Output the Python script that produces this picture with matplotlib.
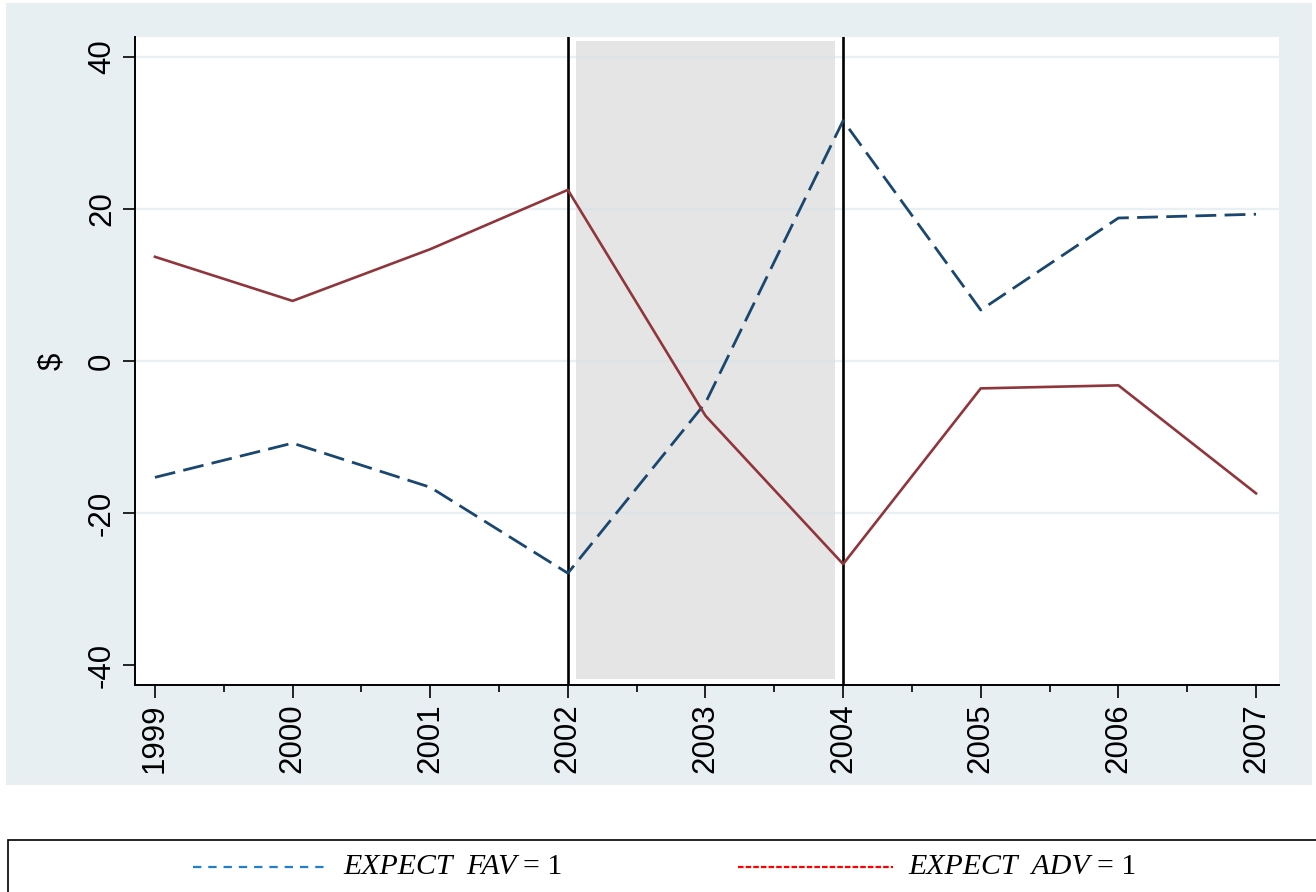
import matplotlib
matplotlib.use("Agg")
import matplotlib.pyplot as plt
from matplotlib.patches import Rectangle
from matplotlib.lines import Line2D

# values
years = [1999, 2000, 2001, 2002, 2003, 2004, 2005, 2006, 2007]
expect_fav = [-15.3, -10.8, -16.6, -27.9, -5.5, 31.6, 6.7, 18.8, 19.3]
expect_adv = [13.7, 7.9, 14.7, 22.5, -7.2, -26.7, -3.6, -3.2, -17.4]
yticks = [-40, -20, 0, 20, 40]
grid_levels = [-20, 0, 20, 40]
event_years = [2002, 2004]
shade_span = (2002.06, 2003.94)
shade_y = (-41.8, 42.1)

plt.rcParams['lines.scale_dashes'] = False
plt.rcParams['font.family'] = ['Liberation Sans', 'DejaVu Sans']

W, H = 1316, 892
fig = plt.figure(figsize=(W / 100, H / 100), dpi=100)
fig.patch.set_facecolor('white')

# outer light panel
fig.patches.append(Rectangle((6 / W, 1 - 785 / H), (1312 - 6) / W, (785 - 3) / H,
                             transform=fig.transFigure, facecolor='#e8eff2',
                             edgecolor='none', zorder=-5))

ax = fig.add_axes([135 / W, 1 - 685 / H, (1279 - 135) / W, (685 - 37) / H])
ax.set_zorder(1)
ax.set_facecolor('white')
ax.set_xlim(1998.855, 2007.167)
ax.set_ylim(-42.6, 42.6)

ax.add_patch(Rectangle((shade_span[0], shade_y[0]), shade_span[1] - shade_span[0],
                       shade_y[1] - shade_y[0], facecolor='#e5e5e5', edgecolor='none', zorder=1))
for y in grid_levels:
    ax.axhline(y, color='#d4e2e8', lw=1.7, alpha=0.5, zorder=2)

for x in event_years:
    ax.axvline(x, color='black', lw=1.9, zorder=4)

ax.plot(years, expect_fav, color='#1a476f', lw=2.0, dashes=(15, 6), zorder=5)
ax.plot(years, expect_adv, color='#90353b', lw=1.9, zorder=5)

ax.spines['top'].set_visible(False)
ax.spines['right'].set_visible(False)
ax.spines['left'].set_linewidth(1.4)
ax.spines['bottom'].set_linewidth(1.4)

ax.set_yticks(yticks)
ax.set_yticklabels([str(v) for v in yticks], rotation=90, va='center', fontsize=22.5)
ax.set_xticks(years)
ax.set_xticklabels([str(v) for v in years], rotation=90, fontsize=22.5)
ax.set_xticks([y + 0.5 for y in years[:-1]], minor=True)
ax.tick_params(axis='both', which='major', length=9, width=1.2, pad=4)
ax.tick_params(axis='x', which='minor', length=5, width=1.2)
ax.set_ylabel('$', fontsize=22.5, labelpad=14)

# legend box at the bottom
fig.patches.append(Rectangle((8 / W, -0.01), 1.0, (1 - 840 / H) + 0.01,
                             transform=fig.transFigure, facecolor='white',
                             edgecolor='black', lw=1.2, zorder=3))
ly = 1 - 867 / H
fig.lines.append(Line2D([193 / W, 325 / W], [ly, ly], transform=fig.transFigure,
                        color='#1f7fd4', lw=1.6, dashes=(6, 5), zorder=4))
fig.lines.append(Line2D([738 / W, 893 / W], [ly, ly], transform=fig.transFigure,
                        color='#ff0000', lw=1.6, dashes=(4, 1.5), zorder=4))
serif = ['Liberation Serif', 'DejaVu Serif']
for x0, name in [(343, 'EXPECT  FAV'), (908, 'EXPECT  ADV')]:
    t = fig.text(x0 / W, ly, name, fontsize=21.5, family=serif, style='italic',
                 va='center', ha='left', zorder=5)
    fig.canvas.draw()
    bb = t.get_window_extent()
    fig.text((bb.x1 + 7) / W, ly, '= 1', fontsize=21.5, family=serif,
             va='center', ha='left', zorder=5)

fig.savefig('out.png', dpi=100)
